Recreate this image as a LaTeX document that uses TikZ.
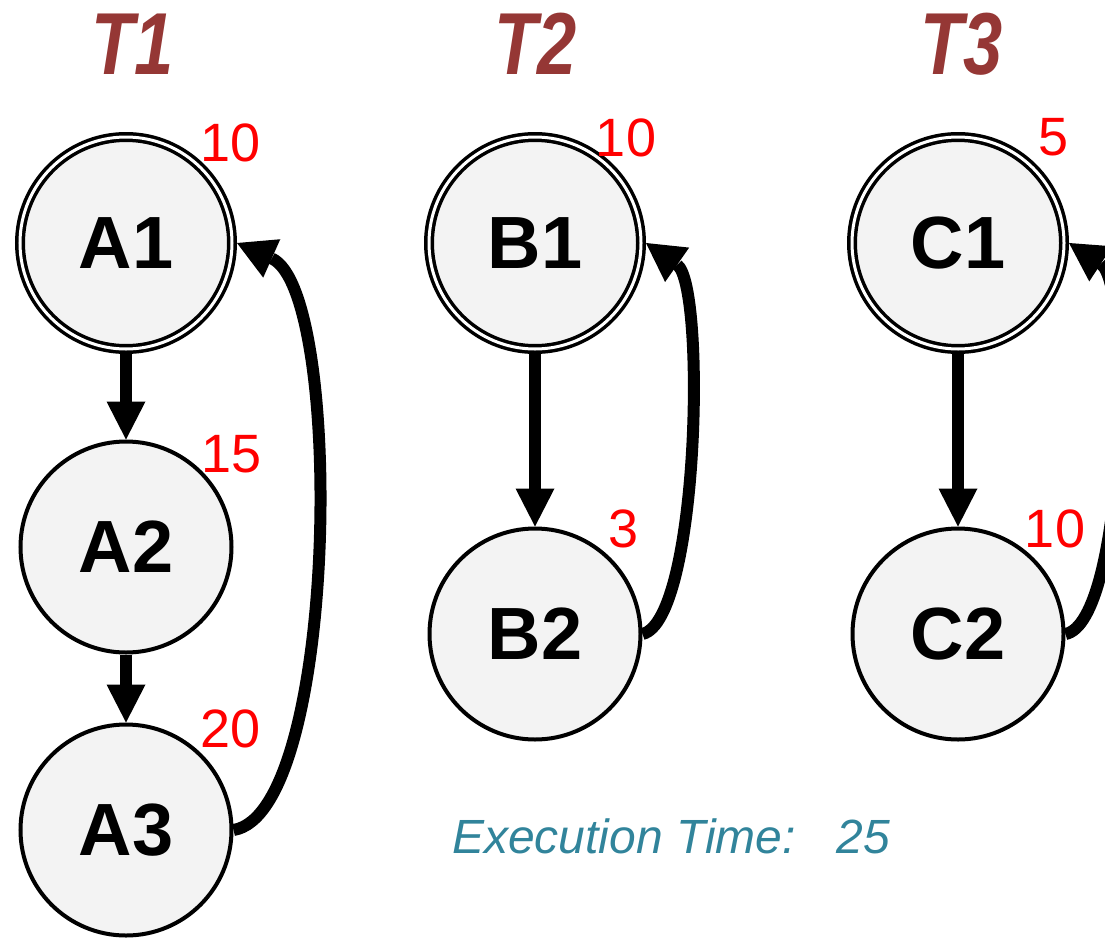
\documentclass[tikz,border=0pt]{standalone}
\usepackage{fontspec}
\setmainfont{Liberation Sans}
\usetikzlibrary{arrows.meta,calc}

\definecolor{titlered}{HTML}{953735}
\definecolor{timeteal}{HTML}{31849B}
\definecolor{statefill}{HTML}{F3F3F3}
\definecolor{costred}{HTML}{FF0000}

\tikzset{
  statenode/.style={circle, draw=black, fill=statefill, line width=4pt,
    minimum size=211pt, inner sep=0pt,
    font=\fontsize{74}{74}\selectfont\bfseries},
  firststate/.style={statenode, line width=3.5pt, double=white,
    double distance=3pt, minimum size=212pt, outer sep=5pt},
  costlabel/.style={inner sep=0pt, text=costred,
    font=\fontsize{54}{54}\selectfont},
  tasktitle/.style={anchor=base, inner sep=0pt, text=titlered,
    font=\fontsize{88}{88}\selectfont\bfseries\itshape},
  flow/.style={line width=12pt,
    -{Triangle[length=38pt,width=39pt,line width=0pt]}},
  backflow/.style={line width=12pt,
    -{Triangle[length=38pt,width=42pt,line width=0pt]}},
}

\begin{document}
\begin{tikzpicture}[x=1pt,y=-1pt]
  \useasboundingbox (0,0) rectangle (1105,937);
  \clip (0,0) rectangle (1105,937);

  % task titles
  \node[tasktitle] (t1) at (133,74) {\scalebox{0.8}[1]{T1}};
  \node[tasktitle] (t2) at (536,74) {\scalebox{0.8}[1]{T2}};
  \node[tasktitle] (t3) at (962,74) {\scalebox{0.8}[1]{T3}};

  % task T1
  \node[firststate] (A1) at (126,243) {A1};
  \node[statenode]  (A2) at (126,547) {A2};
  \node[statenode]  (A3) at (126,830) {A3};

  % task T2
  \node[firststate] (B1) at (535,243) {B1};
  \node[statenode]  (B2) at (535,634) {B2};

  % task T3
  \node[firststate] (C1) at (958,243) {C1};
  \node[statenode]  (C2) at (958,634) {C2};

  % execution costs
  \node[costlabel] (cA1) at (231,143) {10};
  \node[costlabel] (cA2) at (232,454) {15};
  \node[costlabel] (cA3) at (231,729) {20};
  \node[costlabel] (cB1) at (626,138) {10};
  \node[costlabel] (cB2) at (624,529) {3};
  \node[costlabel] (cC1) at (1054,137) {5};
  \node[costlabel] (cC2) at (1055,529) {10};

  % sequential steps
  \draw[flow] (A1.south) -- (A2.north);
  \draw[flow] (A2.south) -- (A3.north);
  \draw[flow] (B1.south) -- (B2.north);
  \draw[flow] (C1.south) -- (C2.north);

  % loops back to the first step
  \draw[backflow] (A3.east) .. controls ($(A3.east)+(105,-17)$)
    and ($(A1.east)+(108,48)$) .. (A1.east);
  \draw[backflow] (B2.east) .. controls ($(B2.east)+(57,-14)$)
    and ($(B1.east)+(60,42)$) .. (B1.east);
  \draw[backflow] (C2.east) .. controls ($(C2.east)+(60,-12)$)
    and ($(C1.east)+(64,42)$) .. (C1.east);

  % total time
  \node[anchor=base west, inner sep=0pt, text=timeteal,
    font=\fontsize{48}{48}\selectfont\itshape] (exec) at (452,853)
    {Execution Time:\hspace{0.85em}25};
\end{tikzpicture}
\end{document}
